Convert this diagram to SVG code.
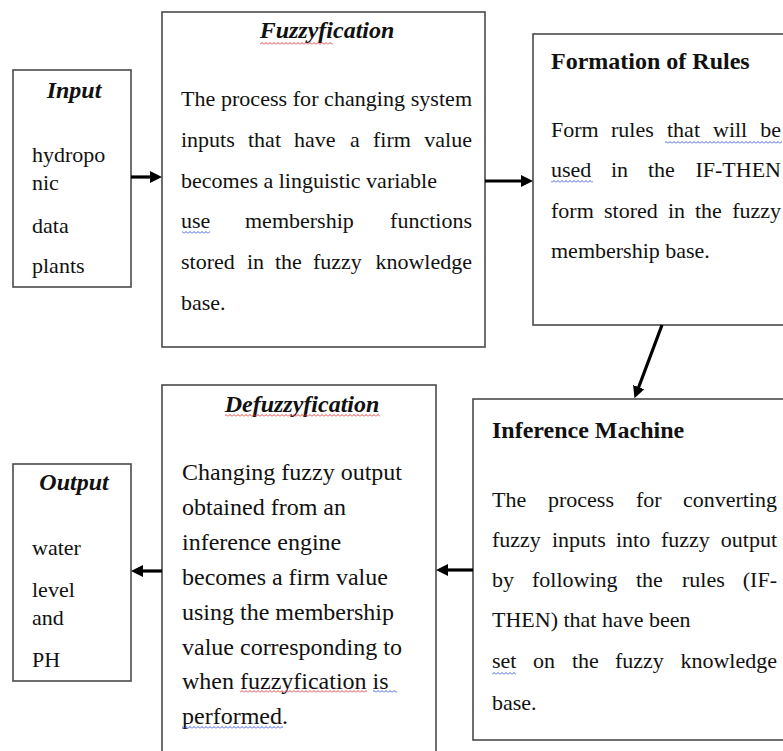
<svg xmlns="http://www.w3.org/2000/svg" width="783" height="751" viewBox="0 0 783 751">
<style>
.box{fill:#fff;stroke:#4a4a4a;stroke-width:1.6}
.t{font-family:"Liberation Serif","Times New Roman",serif;fill:#111}
.b22{font-size:22px}
.b24{font-size:24px}
.ti{font-size:24px;font-weight:bold;font-style:italic;text-anchor:middle}
.tb{font-size:24px;font-weight:bold}
.e{text-anchor:end}
.conn{stroke:#000;stroke-width:3.2;fill:none}
</style>
<defs>
<marker id="ah" markerUnits="userSpaceOnUse" markerWidth="12" markerHeight="12" refX="2" refY="6" orient="auto">
<path d="M0,0 L12,6 L0,12 z" fill="#000"/>
</marker>
<pattern id="wr" patternUnits="userSpaceOnUse" x="0" y="0" width="4" height="3">
<path d="M0,2.5 L2,0.5 L4,2.5" stroke="#e03030" stroke-width="0.9" fill="none"/>
</pattern>
<pattern id="wb" patternUnits="userSpaceOnUse" x="0" y="0" width="4" height="3">
<path d="M0,2.5 L2,0.5 L4,2.5" stroke="#3050e0" stroke-width="0.9" fill="none"/>
</pattern>
</defs>

<g id="input">
<rect class="box" x="13" y="70" width="118" height="217"/>
<text class="t ti" x="74" y="98">Input</text>
<text class="t b22" x="32" y="162">hydropo</text>
<text class="t b22" x="32" y="190">nic</text>
<text class="t b22" x="32" y="233">data</text>
<text class="t b22" x="32" y="273">plants</text>
</g>

<g id="fuzzyfication">
<rect class="box" x="162" y="12" width="323" height="335"/>
<text class="t ti" x="327" y="38">Fuzzyfication</text>
<rect x="260" y="42" width="73" height="3" fill="url(#wr)"/>
<text class="t b22" x="181" y="106" textLength="291" lengthAdjust="spacing">The process for changing system</text>
<text class="t b22" y="147"><tspan x="181">inputs</tspan><tspan x="248">that</tspan><tspan x="294">have</tspan><tspan x="350">a</tspan><tspan x="373">firm</tspan><tspan class="e" x="472">value</tspan></text>
<text class="t b22" x="181" y="188">becomes a linguistic variable</text>
<text class="t b22" y="228"><tspan x="181">use</tspan><tspan x="245">membership</tspan></text>
<text class="t b22 e" x="472" y="228">functions</text>
<rect x="182" y="231" width="28" height="3" fill="url(#wb)"/>
<text class="t b22" y="269"><tspan x="181">stored</tspan><tspan x="247">in</tspan><tspan x="275">the</tspan><tspan x="313">fuzzy</tspan></text>
<text class="t b22 e" x="472" y="269">knowledge</text>
<text class="t b22" x="181" y="310">base.</text>
</g>

<g id="formation">
<rect class="box" x="533" y="34" width="270" height="291"/>
<text class="t tb" x="551" y="69">Formation of Rules</text>
<text class="t b22" y="137"><tspan x="551">Form</tspan><tspan x="611">rules</tspan><tspan x="667">that</tspan><tspan x="713">will</tspan></text>
<text class="t b22 e" x="781" y="137">be</text>
<rect x="665" y="141" width="117" height="3" fill="url(#wb)"/>
<text class="t b22" y="177"><tspan x="551">used</tspan><tspan x="611">in</tspan><tspan x="648">the</tspan></text>
<text class="t b22 e" x="781" y="177">IF-THEN</text>
<rect x="551" y="180" width="42" height="3" fill="url(#wb)"/>
<text class="t b22" y="218"><tspan x="551">form</tspan><tspan x="604">stored</tspan><tspan x="668">in</tspan><tspan x="695">the</tspan></text>
<text class="t b22 e" x="781" y="218">fuzzy</text>
<text class="t b22" x="551" y="258">membership base.</text>
</g>

<g id="inference">
<rect class="box" x="473" y="399" width="330" height="341"/>
<text class="t tb" x="492" y="438">Inference Machine</text>
<text class="t b22" y="507"><tspan x="492">The</tspan><tspan x="548">process</tspan><tspan x="636">for</tspan></text>
<text class="t b22 e" x="777" y="507">converting</text>
<text class="t b22" y="547"><tspan x="492">fuzzy</tspan><tspan x="552">inputs</tspan><tspan x="616">into</tspan><tspan x="661">fuzzy</tspan></text>
<text class="t b22 e" x="777" y="547">output</text>
<text class="t b22" y="587"><tspan x="492">by</tspan><tspan x="532">following</tspan><tspan x="636">the</tspan><tspan x="682">rules</tspan></text>
<text class="t b22 e" x="777" y="587">(IF-</text>
<text class="t b22" x="492" y="627">THEN) that have been</text>
<text class="t b22" y="668"><tspan x="492">set</tspan><tspan x="533">on</tspan><tspan x="572">the</tspan><tspan x="615">fuzzy</tspan></text>
<text class="t b22 e" x="777" y="668">knowledge</text>
<rect x="492" y="672" width="24" height="3" fill="url(#wb)"/>
<text class="t b22" x="492" y="710">base.</text>
</g>

<g id="defuzzyfication">
<rect class="box" x="162" y="385" width="274" height="380"/>
<text class="t ti" x="302" y="412">Defuzzyfication</text>
<rect x="225" y="414" width="155" height="3" fill="url(#wr)"/>
<text class="t b24" x="182" y="480">Changing fuzzy output</text>
<text class="t b24" x="182" y="515">obtained from an</text>
<text class="t b24" x="182" y="550">inference engine</text>
<text class="t b24" x="182" y="585">becomes a firm value</text>
<text class="t b24" x="182" y="620">using the membership</text>
<text class="t b24" x="182" y="655">value corresponding to</text>
<text class="t b24" x="182" y="689">when fuzzyfication is</text>
<rect x="240" y="690" width="127" height="3" fill="url(#wr)"/>
<rect x="373" y="690" width="24" height="3" fill="url(#wb)"/>
<text class="t b24" x="182" y="724">performed.</text>
<rect x="182" y="726" width="101" height="3" fill="url(#wb)"/>
</g>

<g id="output">
<rect class="box" x="13" y="464" width="118" height="217"/>
<text class="t ti" x="74" y="490">Output</text>
<text class="t b22" x="32" y="555">water</text>
<text class="t b22" x="32" y="597">level</text>
<text class="t b22" x="32" y="625">and</text>
<text class="t b22" x="32" y="667">PH</text>
</g>

<g id="connectors">
<line class="conn" x1="131" y1="177" x2="152" y2="177" marker-end="url(#ah)"/>
<line class="conn" x1="485" y1="181" x2="523" y2="181" marker-end="url(#ah)"/>
<line class="conn" x1="662" y1="325" x2="638" y2="389" marker-end="url(#ah)"/>
<line class="conn" x1="473" y1="570" x2="446" y2="570" marker-end="url(#ah)"/>
<line class="conn" x1="162" y1="571" x2="141" y2="571" marker-end="url(#ah)"/>
</g>
</svg>
